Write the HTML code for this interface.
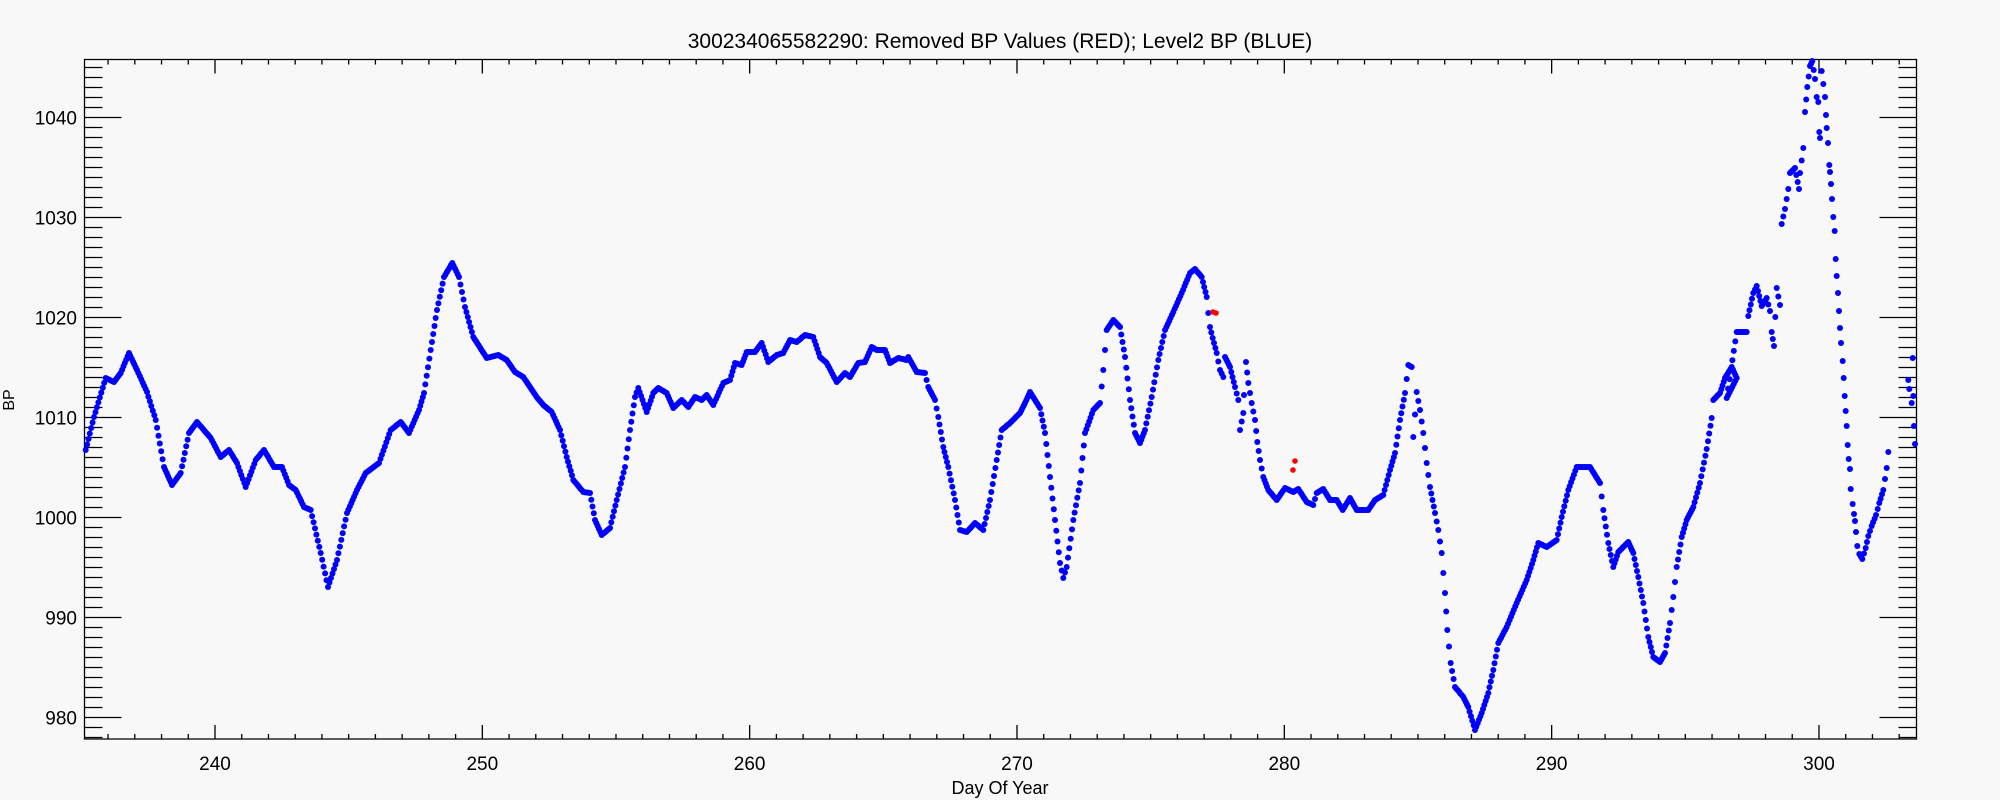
<!DOCTYPE html>
<html><head><meta charset="utf-8"><style>
html,body{margin:0;padding:0;background:#f8f8f8;}
svg{display:block;}
text{font-family:"Liberation Sans",sans-serif;fill:#000;}
</style></head><body>
<svg id="s" width="2000" height="800" viewBox="0 0 2000 800" xmlns="http://www.w3.org/2000/svg">
<rect width="2000" height="800" fill="#f8f8f8"/>
<text x="1000" y="48" font-size="21" text-anchor="middle">300234065582290: Removed BP Values (RED); Level2 BP (BLUE)</text>
<text x="1000" y="794" font-size="18" text-anchor="middle">Day Of Year</text>
<text transform="translate(14,400) rotate(-90)" font-size="16" text-anchor="middle">BP</text>
<g id="ax" stroke="#000" stroke-width="1.3" fill="none"></g>
<g id="lbl" font-size="19"></g>
<g id="pts" fill="#0000ff"></g>
<g fill="#ff0000">
<circle cx="1213" cy="312" r="2.8"/><circle cx="1216" cy="313" r="2.8"/>
<circle cx="1295" cy="461" r="2.8"/><circle cx="1293" cy="470" r="2.8"/>
</g>
</svg>
<script>
var NS="http://www.w3.org/2000/svg";
var L=84.5,R=1916.5,T=59.5,B=739;
function X(d){return 215+(d-240)*26.733;}
function Y(v){return 117.5+(1040-v)*10;}
var ax=document.getElementById('ax'),lbl=document.getElementById('lbl');
var d="M"+L+" "+T+"H"+R+"V"+B+"H"+L+"Z";
for(var i=236;i<=303;i++){var x=X(i);var len=(i%10==0)?14:5;d+="M"+x+" "+B+"v"+(-len)+"M"+x+" "+T+"v"+len;
 if(i%10==0){var t=document.createElementNS(NS,'text');t.setAttribute('x',x);t.setAttribute('y',770);t.setAttribute('text-anchor','middle');t.textContent=i;lbl.appendChild(t);}}
for(var v=978;v<=1045;v++){var y=Y(v);var len=(v%10==0)?37:18;d+="M"+L+" "+y+"h"+len+"M"+R+" "+y+"h"+(-len);
 if(v%10==0){var t=document.createElementNS(NS,'text');t.setAttribute('x',77);t.setAttribute('y',y+7);t.setAttribute('text-anchor','end');t.textContent=v;lbl.appendChild(t);}}
var p=document.createElementNS(NS,'path');p.setAttribute('d',d);ax.appendChild(p);
var P=[[85.7,450],[94,417],[105.7,378],[114,382],[120.7,373],[129,353],[137,370],[147,392],[155.7,420],[164,467],[172,485],[180.7,473],[189,433],[197,422],[210.7,438],[220.7,457],[229,450],[237,463],[245.7,487],[255.7,460],[264,450],[274,467],[282,467],[289,485],[295.7,490],[304,507],[310.7,510],[320.7,553],[328,587],[337,560],[347,513],[357,490],[365.7,473],[379,463],[390.7,430],[400.7,422],[409,433],[419,410],[424,393],[430.7,350],[437,310],[444,277],[452.3,263],[459,277],[465,307],[473.3,337],[486.7,358],[498.3,355],[506.7,360],[515,372],[523.3,377],[536.7,397],[543.3,405],[551.7,412],[560,430],[566.7,457],[573.3,480],[583.3,492],[590,493],[595,520],[601.7,535],[610,528],[616.7,500],[625,467],[630,430],[635,397],[638.3,388],[646.7,412],[653.3,393],[658.3,388],[666.7,393],[673.3,408],[681.7,400],[688.3,407],[695,397],[701.7,400],[706.7,395],[713.3,405],[723.3,383],[730,380],[735,363],[741.7,365],[746.7,352],[755,352],[761.7,343],[768.3,362],[776.7,355],[783.3,353],[790,340],[796.7,342],[805,335],[813.3,337],[820,357],[826.7,363],[836.7,382],[845,373],[850,377],[858.3,363],[865,362],[871.7,347],[876.7,350],[885,350],[890,363],[898.3,358],[906.7,360],[908.3,357],[916.7,372],[925,373],[928.3,387],[935,400],[938.3,417],[943.3,447],[948.3,467],[955,500],[960,530],[966.7,532],[975,523],[983.3,530],[990,500],[996.7,460],[1001.7,430],[1010,423],[1020,413],[1025,403],[1030,392],[1040,408],[1045,433],[1050,477],[1055,520],[1060,563],[1063.3,578],[1066.7,567],[1073.3,520],[1080,483],[1085,433],[1093.3,410],[1100,403],[1103.3,370],[1106.7,330],[1113.3,320],[1120,327],[1125,357],[1130,400],[1135,433],[1140,443],[1145,430],[1151.7,397],[1158.3,360],[1165,330],[1173.3,312],[1181.7,293],[1190,273],[1195,269],[1201.7,277],[1206.7,297],[1208.3,313],[1210,327],[1212.7,338],[1216.7,353],[1220,370],[1223.3,377],[1225,357],[1230,367],[1235,387],[1238.3,400],[1240,430],[1243.3,413],[1244,395],[1246,362],[1248.3,383],[1251.7,403],[1255,420],[1257.3,442],[1260,460],[1263.3,477],[1268.3,490],[1276.7,500],[1285,488],[1293.3,492],[1298.3,489],[1306.7,502],[1313.3,505],[1316.7,493],[1323.3,489],[1330,500],[1336.7,500],[1342.7,510],[1350,498],[1356.7,510],[1368.3,510],[1375,500],[1383.3,495],[1390,470],[1395,453],[1400,420],[1405,393],[1408.3,365],[1411.7,367],[1413.3,437],[1416.7,392],[1420,410],[1423.3,433],[1426.7,463],[1430,487],[1435,513],[1438.3,530],[1441.7,553],[1445,593],[1447.3,630],[1450.7,663],[1455,687],[1463.3,697],[1468.3,707],[1475,730],[1481.7,713],[1488.3,693],[1493.3,670],[1498.3,643],[1506.7,627],[1516.7,603],[1526.7,580],[1533.3,560],[1538.3,543],[1546.7,547],[1556.7,540],[1561.7,517],[1568.3,490],[1576.7,467],[1590,467],[1600,483],[1603.3,510],[1608.3,543],[1613.3,567],[1618.3,552],[1628.3,542],[1633.3,553],[1638.3,577],[1643.3,603],[1648.3,637],[1653.3,657],[1660,662],[1665,653],[1670,623],[1673.3,597],[1676.7,567],[1681.7,537],[1686.7,520],[1693.3,507],[1700,483],[1706.7,449],[1711.7,418],[1713.3,400],[1720,393],[1725,378],[1731.7,367],[1736.7,378],[1726.7,398],[1736.7,332],[1746.7,332],[1748.3,316],[1753.3,293],[1756.7,286],[1761.7,306],[1766.7,298],[1770,311],[1771.7,332],[1774,346],[1776.7,288],[1780,305],[1781.7,224],[1785,209],[1788.3,189],[1790,173],[1795,168],[1799,189],[1800,173],[1803.3,148],[1805,112],[1807.3,87],[1810,66],[1812.3,61],[1815,79],[1816.7,97],[1818.3,102],[1819.3,132],[1820,138],[1821.7,71],[1823.3,84],[1825,97],[1826,115],[1826.7,128],[1828,143],[1829.3,165],[1830,172],[1831,184],[1832,199],[1833.3,217],[1834.7,231],[1835.7,259],[1836.7,276],[1838,293],[1839,311],[1840,328],[1841,343],[1842.7,361],[1843.7,378],[1844.7,396],[1845.7,411],[1846.7,426],[1847.7,445],[1848.7,459],[1850,469],[1850.7,489],[1852.7,504],[1854,514],[1855,521],[1856,532],[1857.3,546],[1859.3,554],[1862.3,559],[1865.7,548],[1868.3,536],[1871.7,526],[1876,515],[1879.3,503],[1883.3,490],[1886.7,468],[1888.3,452]];
var g=document.getElementById('pts'),out="";
function dot(x,y){out+='<circle cx="'+x.toFixed(1)+'" cy="'+y.toFixed(1)+'" r="3"/>';}
for(var k=0;k<P.length-1;k++){var a=P[k],b=P[k+1];var dx=Math.abs(b[0]-a[0]);var n=Math.max(1,Math.round(dx/1.4));
 for(var j=0;j<n;j++){var t=j/n;dot(a[0]+(b[0]-a[0])*t,a[1]+(b[1]-a[1])*t);}}
dot(1888.3,452);
[[1908.3,380],[1909.3,389],[1912.7,358],[1911.7,403],[1913.3,396],[1914,426],[1915,444]].forEach(function(q){dot(q[0],q[1]);});
g.innerHTML=out;
</script>
</body></html>
